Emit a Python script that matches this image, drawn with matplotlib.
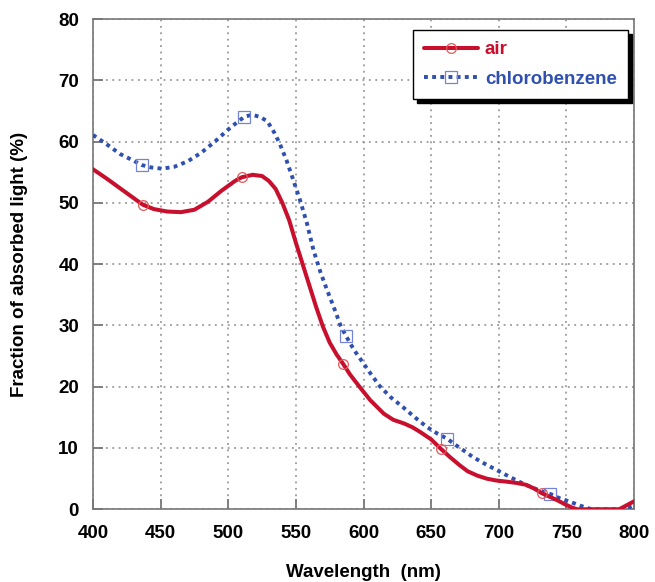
import matplotlib
matplotlib.use("Agg")
import matplotlib.pyplot as plt

# --- data ---
wl_air = [400, 410, 420, 430, 437, 445, 455, 465, 475, 485, 495, 505, 510,
          518, 525, 530, 535, 540, 545, 550, 555, 560, 565, 570, 575, 580,
          585, 590, 597, 605, 615, 622, 630, 636, 642, 650, 657, 664, 671,
          677, 684, 691, 698, 706, 713, 720, 726, 732, 738, 743, 749, 755,
          758, 770, 780, 789, 795, 800]
abs_air = [55.5, 54.0, 52.4, 50.8, 49.7, 49.0, 48.6, 48.5, 48.9, 50.2, 52.0,
           53.6, 54.2, 54.6, 54.4, 53.6, 52.3, 50.0, 47.2, 43.5, 40.0, 36.5,
           33.0, 29.8, 27.2, 25.3, 23.7, 22.0, 20.0, 17.8, 15.6, 14.6, 14.0,
           13.4, 12.6, 11.4, 9.9, 8.5, 7.2, 6.2, 5.5, 5.0, 4.7, 4.5, 4.3,
           4.0, 3.4, 2.6, 2.0, 1.5, 0.8, 0.2, 0.0, 0.0, 0.0, 0.0, 0.7, 1.3]
air_marks = [437, 510, 585, 657, 732]

wl_cb = [400, 410, 420, 430, 436, 443, 451, 460, 470, 480, 490, 500, 505,
         512, 518, 524, 529, 534, 538, 543, 548, 553, 558, 563, 568, 573,
         578, 583, 587, 593, 600, 606, 612, 620, 629, 638, 647, 655, 662,
         668, 674, 681, 689, 695, 701, 708, 716, 724, 731, 738, 745, 753,
         760, 767, 770, 780, 790, 795, 800]
abs_cb = [61.1, 59.6, 58.0, 56.9, 56.2, 55.8, 55.6, 55.9, 56.8, 58.2, 60.0,
          62.0, 62.9, 64.1, 64.4, 64.0, 63.3, 61.5, 59.7, 57.0, 53.8, 50.5,
          46.8, 42.3, 38.8, 35.8, 33.0, 30.0, 28.3, 26.0, 23.8, 21.9, 20.1,
          18.3, 16.7, 15.0, 13.4, 12.3, 11.5, 10.5, 9.6, 8.5, 7.5, 6.8, 6.1,
          5.3, 4.4, 3.6, 3.0, 2.5, 1.8, 1.2, 0.6, 0.1, 0.0, 0.0, 0.0, 0.2, 0.6]
cb_marks = [436, 512, 587, 662, 738]

x_ticks = [400, 450, 500, 550, 600, 650, 700, 750, 800]
y_ticks = [0, 10, 20, 30, 40, 50, 60, 70, 80]

RED = "#c8102e"
BLUE = "#3050b0"

plt.rcParams["font.family"] = ["Liberation Sans", "DejaVu Sans"]
plt.rcParams["font.weight"] = "bold"

fig = plt.figure(figsize=(6.55, 5.82), dpi=100)
ax = fig.add_axes([0.142, 0.125, 0.826, 0.842])

ax.plot(wl_air, abs_air, color=RED, lw=2.9, solid_capstyle="round",
        solid_joinstyle="round",
        marker="o", markevery=[wl_air.index(m) for m in air_marks],
        markersize=7, markerfacecolor="none", markeredgecolor="#e05a5a",
        markeredgewidth=0.9, label="air", zorder=4)
ax.plot(wl_cb, abs_cb, color=BLUE, lw=2.8, linestyle=(0, (1, 1.1)),
        marker="s", markevery=[wl_cb.index(m) for m in cb_marks],
        markersize=8, markerfacecolor="none", markeredgecolor="#7484d4",
        markeredgewidth=0.9, label="chlorobenzene", zorder=3)

ax.set_xlim(400, 800)
ax.set_ylim(0, 80)
ax.set_xticks(x_ticks)
ax.set_yticks(y_ticks)
ax.grid(True, linestyle=(0, (1.2, 3)), color="#888888", linewidth=1.1)
ax.set_axisbelow(True)

ax.tick_params(direction="in", length=7, width=1.3, color="#777777",
               labelsize=13.5, pad=10)
ax.tick_params(axis="x", pad=11)
for sp in ax.spines.values():
    sp.set_color("#777777")
    sp.set_linewidth(1.2)

ax.set_xlabel("Wavelength  (nm)", fontsize=13.5, fontweight="bold", labelpad=16)
ax.set_ylabel("Fraction of absorbed light (%)", fontsize=13.5,
              fontweight="bold", labelpad=22)

leg = ax.legend(loc="upper left", bbox_to_anchor=(0.591, 0.978),
                borderaxespad=0, fontsize=13.5, handlelength=2.9,
                handletextpad=0.35, labelspacing=0.65, borderpad=0.6,
                fancybox=False, framealpha=1, edgecolor="black",
                shadow={"color": "black", "alpha": 1, "ox": 3, "oy": -3})
leg.get_frame().set_linewidth(1.0)
for txt, c in zip(leg.get_texts(), [RED, BLUE]):
    txt.set_color(c)
    txt.set_fontweight("bold")

fig.savefig("out.png", dpi=100)
